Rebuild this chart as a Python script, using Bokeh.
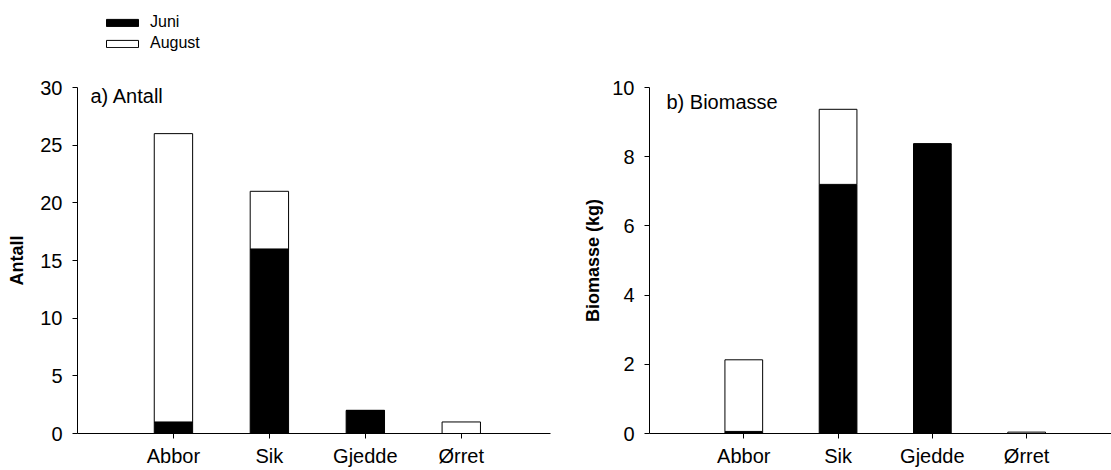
from bokeh.plotting import figure
from bokeh.layouts import row, column
from bokeh.models import Range1d, FixedTicker, Label, Legend, LegendItem, ColumnDataSource
from bokeh.embed import file_html
from bokeh.resources import INLINE

species = ["Abbor", "Sik", "Gjedde", "Ørret"]
antall_juni = [1, 16, 2, 0]
antall_august = [25, 5, 0, 1]
biomasse_juni = [0.06, 7.2, 8.37, 0.0]
biomasse_august = [2.07, 2.17, 0.0, 0.04]
series = ["Juni", "August"]
series_colors = ["black", "white"]
antall_ticks = [0, 5, 10, 15, 20, 25, 30]
biomasse_ticks = [0, 2, 4, 6, 8, 10]

FONT = "Liberation Sans"
xpos = list(range(1, len(species) + 1))
TOP_H = 55


def make_panel(juni, august, ymax, yticks, ylabel, panel_label, width, border_left,
               border_right, x_end, label_xy, title_standoff):
    p = figure(width=width, height=470 - TOP_H, output_backend="svg", toolbar_location=None,
               x_range=Range1d(0, x_end), y_range=Range1d(0, ymax),
               min_border_left=border_left, min_border_right=border_right,
               min_border_top=87 - TOP_H, min_border_bottom=37)
    p.grid.visible = False
    p.outline_line_color = None
    src = ColumnDataSource(dict(x=xpos, Juni=juni, August=august))
    p.vbar_stack(series, x="x", width=0.4, source=src,
                 fill_color=series_colors, line_color="black", line_width=1)
    for ax in (p.xaxis[0], p.yaxis[0]):
        ax.axis_line_color = "black"
        ax.major_tick_line_color = "black"
        ax.minor_tick_line_color = None
        ax.major_tick_in = 0
        ax.major_tick_out = 5
        ax.major_label_text_font = FONT
        ax.major_label_text_font_size = "20px"
        ax.major_label_text_color = "black"
    p.xaxis.ticker = FixedTicker(ticks=xpos)
    p.xaxis.major_label_overrides = {x: s for x, s in zip(xpos, species)}
    p.xaxis.major_label_standoff = 6
    p.yaxis.ticker = FixedTicker(ticks=yticks)
    p.yaxis.major_label_standoff = 10
    p.yaxis.axis_label = ylabel
    p.yaxis.axis_label_text_font = FONT
    p.yaxis.axis_label_text_font_style = "bold"
    p.yaxis.axis_label_text_font_size = "18px"
    p.yaxis.axis_label_text_color = "black"
    p.yaxis.axis_label_standoff = title_standoff
    p.add_layout(Label(x=label_xy[0], y=label_xy[1], x_units="screen", y_units="screen",
                       text=panel_label, text_font=FONT, text_font_size="20px",
                       text_baseline="alphabetic", text_color="black"))
    return p


p1 = make_panel(antall_juni, antall_august, 30, antall_ticks, "Antall", "a) Antall",
                580, 77, 30, 4.93, (13, 338), 10)
p2 = make_panel(biomasse_juni, biomasse_august, 10, biomasse_ticks, "Biomasse (kg)",
                "b) Biomasse", 531, 60, 0, 4.9, (17, 332), 6)

# legend strip above the panels (its swatch renderers sit outside the visible range)
lf = figure(width=1111, height=TOP_H, output_backend="svg", toolbar_location=None,
            x_range=Range1d(0, 1), y_range=Range1d(0, 1),
            min_border=0, outline_line_color=None)
lf.axis.visible = False
lf.grid.visible = False
lrs = [lf.vbar(x=[-5], top=[-5], width=0.1, fill_color=c, line_color="black", line_width=1)
       for c in series_colors]
lg = Legend(items=[LegendItem(label=s, renderers=[r]) for s, r in zip(series, lrs)],
            location=(102, 3), orientation="vertical",
            glyph_width=40, glyph_height=9, label_height=14, spacing=3,
            label_standoff=8, padding=0, margin=0,
            border_line_color=None, background_fill_alpha=0,
            label_text_font=FONT, label_text_font_size="16px",
            label_text_color="black")
lf.add_layout(lg, "center")

layout = column(lf, row(p1, p2))
open("out.html", "w").write(file_html(layout, INLINE))
